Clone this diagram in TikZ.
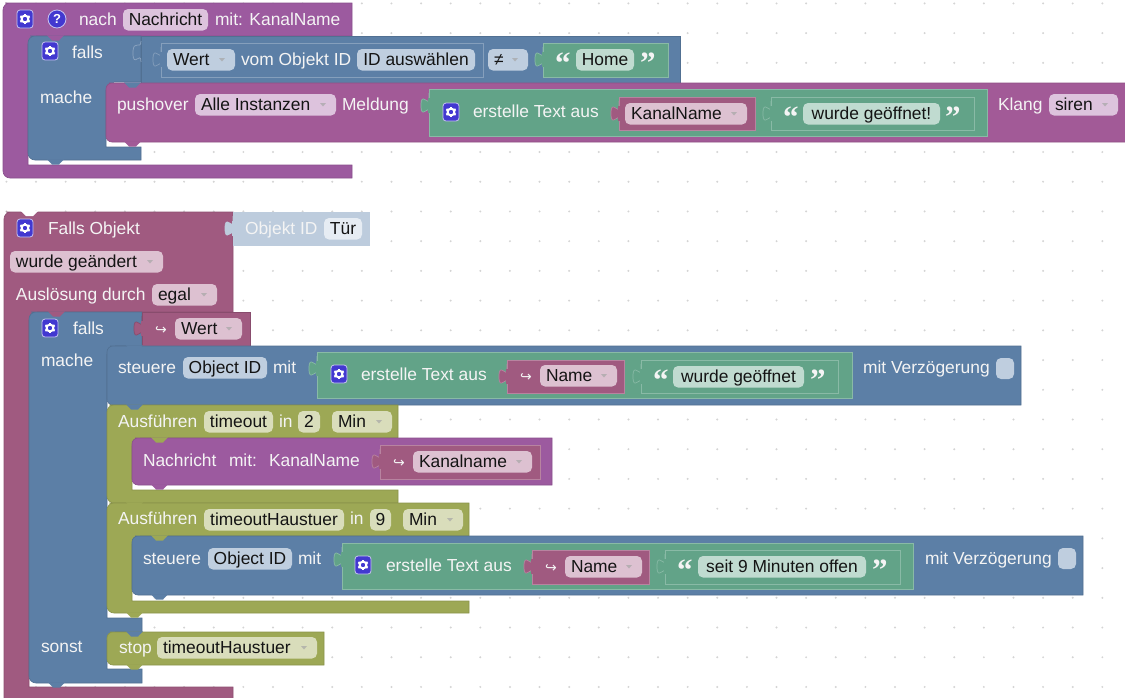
\documentclass[tikz,border=0pt]{standalone}
\usepackage{fontspec}
\setmainfont{Liberation Sans}
\newfontfamily\qfont{Liberation Serif}
\newfontfamily\arfont{DejaVu Sans}
\definecolor{cPurple}{HTML}{9C5A9F}
\definecolor{cPush}{HTML}{A25A97}
\definecolor{cBlue}{HTML}{5C7FA6}
\definecolor{cGreen}{HTML}{62A388}
\definecolor{cMaroon}{HTML}{A05A80}
\definecolor{cOlive}{HTML}{9DA855}
\definecolor{cPale}{HTML}{BDCCDD}
\definecolor{fPurple}{HTML}{DDC3DD}
\definecolor{fBlue}{HTML}{BFCEDF}
\definecolor{fGreen}{HTML}{C0DBD0}
\definecolor{fMaroon}{HTML}{DDC1D1}
\definecolor{fOlive}{HTML}{D9DDBB}
\definecolor{fPale}{HTML}{E6ECF3}
\definecolor{cGear}{HTML}{4238D0}
\definecolor{cTxt}{HTML}{F4F4F4}
\newcount\nn
\newcommand{\stepn}{\global\advance\nn by 1\relax}
\tikzset{
  x=1pt,y=-1pt,
  every node/.style={inner sep=0pt,outer sep=0pt,font=\fontsize{17.4}{20}\selectfont},
  lab/.style={text=cTxt,anchor=base west},
  ftxt/.style={text=black!92},
  fbox/.style={rounded corners=5pt},
  edge/.style={line width=0.6pt},
  vbox/.style={line width=0.7pt},
}
% C-shaped statement block: colour,x0,y0,x1,yh,xi,ys,yb
\newcommand{\cblk}[8]{%
  \fill[#1,draw=#1!88!black,edge] [rounded corners=7pt] (#2+9,#8) -- (#2,#8) -- (#2,#3) -- (#2+9,#3) [sharp corners] -- (#4,#3) -- (#4,#5) -- (#6,#5) -- (#6,#7) -- (#4,#7) -- (#4,#8) -- cycle;
  \fill[#1] (#6-1,#5-1) rectangle (#6+8,#5+8);}
% plain statement block: colour,x0,y0,x1,y1
\newcommand{\sblk}[5]{%
  \fill[#1,draw=#1!88!black,edge] [rounded corners=6pt] (#4+0,#5) -- (#2,#5) -- (#2,#3) -- (#2+9,#3) [sharp corners] -- (#4,#3) -- cycle;}
% value block with tab: colour,border,x0,y0,x1,y1
\newcommand{\vblk}[6]{%
  \fill[#1,draw=#2,vbox] (#3,#4+4) -- (#3,#4+9) .. controls (#3,#4+19) and (#3-8,#4+1) .. (#3-8,#4+16.5) .. controls (#3-8,#4+32) and (#3,#4+14) .. (#3,#4+24) -- (#3,#4+24) -- cycle;
  \fill[#1,draw=#2,vbox] (#3,#4) rectangle (#5,#6);
  \fill[#1] (#3-1.5,#4+9) rectangle (#3+1,#4+24);}
\newcommand{\bump}[3]{\fill[#3] (#1,#2-0.6) -- (#1+5,#2+4.5) -- (#1+12,#2+4.5) -- (#1+17,#2-0.6) -- cycle;}
\newcommand{\lab}[3]{\stepn\node[lab] (n\the\nn) at (#1,#2+6) {#3};}
% field without dropdown: x0,y0,x1,fill,text
\newcommand{\fld}[5]{%
  \fill[#4,fbox] (#1,#2) rectangle (#3,#2+21.5);
  \stepn\node[ftxt,anchor=base] (n\the\nn) at ({(#1+#3)/2},#2+16) {#5};}
% field with dropdown
\newcommand{\dfld}[5]{%
  \fill[#4,fbox] (#1,#2) rectangle (#3,#2+21.5);
  \stepn\node[ftxt,anchor=base west] (n\the\nn) at (#1+6,#2+16) {#5};
  \fill[black!35,opacity=.7] (#3-16,#2+9) -- (#3-10,#2+9) -- (#3-13,#2+12.5) -- cycle;}
\newcommand{\gear}[2]{%
  \fill[cGear,draw=white!70!cGear,line width=0.8pt,rounded corners=3pt] (#1-8,#2-9) rectangle (#1+8,#2+9);
  \foreach \a in {30,90,150,210,270,330}{\draw[white,line width=2.2pt] (#1,#2) ++(\a:2.8) -- ++(\a:2.6);}
  \draw[white,line width=2pt] (#1,#2) circle (3.4);}
\newcommand{\qo}[2]{\stepn\node[text=cTxt,anchor=base west,font=\qfont\bfseries\fontsize{31}{31}\selectfont] (n\the\nn) at (#1,#2+24) {“};}
\newcommand{\qc}[2]{\stepn\node[text=cTxt,anchor=base west,font=\qfont\bfseries\fontsize{31}{31}\selectfont] (n\the\nn) at (#1,#2+24) {”};}
\newcommand{\harr}[2]{\stepn\node[text=cTxt,anchor=base west,font=\arfont\fontsize{14}{14}\selectfont] (n\the\nn) at (#1,#2+6) {↪};}
\begin{document}
\begin{tikzpicture}
\useasboundingbox (0,0) rectangle (1125,697);
\clip (0,0) rectangle (1125,697);
\fill[white] (0,0) rectangle (1125,697);
% grid of dots
\foreach \i in {0,...,37}{\foreach \j in {0,...,23}{\fill[black!17] (6.4+29.62*\i,3.4+29.72*\j) circle (1.1);}}

% ---------- first group ----------
\cblk{cPurple}{3}{3}{352}{36}{28}{165}{178}
\cblk{cBlue}{28}{36}{141}{82}{106}{147}{160}
\fill[cBlue,draw=cBlue!88!black,edge] (141,36) rectangle (680,83);
\bump{47}{36}{cPurple}
\bump{47}{160}{cBlue}
\sblk{cPush}{106}{83}{1130}{142}
\bump{124}{83}{cBlue}
\bump{124}{142}{cPush}
% header
\gear{25}{19}
\fill[cGear,draw=white!70!cGear,line width=0.8pt] (57,19) circle (9);
\stepn\node[text=white,font=\bfseries\fontsize{13}{13}\selectfont] (n\the\nn) at (57,19) {?};
\lab{79}{19}{nach}
\fld{123}{9}{208}{fPurple}{Nachricht}
\lab{215}{19}{mit: KanalName}
% falls
\gear{50}{51}
\lab{72}{52}{falls}
\lab{40}{97}{mache}
\draw[cBlue!70!white,line width=0.7pt] (141,41) .. controls (141,51) and (133,38) .. (133,53) .. controls (133,69) and (141,50) .. (141,62);
\vblk{cBlue}{cBlue!75!white}{161}{43}{483}{77}
\dfld{167}{49}{235}{fBlue}{Wert}
\lab{241}{59}{vom Objekt ID}
\fld{357}{49}{475}{fBlue}{ID auswählen}
\dfld{488}{49}{528}{fBlue}{≠}
\vblk{cGreen}{cGreen!75!white}{543}{43}{668}{77}
\qo{555}{49}
\fld{576}{49}{634}{fGreen}{Home}
\qc{640}{49}
% pushover
\lab{117}{104}{pushover}
\dfld{195}{94}{336}{fPurple}{Alle Instanzen}
\lab{342}{104}{Meldung}
\vblk{cGreen}{cGreen!75!white}{429}{89}{987}{136}
\gear{451}{112}
\lab{473}{111}{erstelle Text aus}
\vblk{cMaroon}{cMaroon!75!white}{619}{97}{755}{130}
\dfld{625}{103}{747}{fMaroon}{KanalName}
\vblk{cGreen}{cGreen!75!white}{771}{97}{974}{130}
\qo{783}{103}
\fld{803}{103}{940}{fGreen}{wurde geöffnet!}
\qc{945}{103}
\lab{998}{104}{Klang}
\dfld{1049}{94}{1118}{fPurple}{siren}

% ---------- second group ----------
\cblk{cMaroon}{4}{212}{233}{312}{29}{687}{712}
\fill[white] (21,211) -- (26,216) -- (33,216) -- (38,211) -- cycle;
\gear{25}{228}
\lab{48}{228}{Falls Objekt}
\vblk{cPale}{cPale}{233}{212}{369}{245}
\lab{245}{228}{Objekt ID}
\fld{324}{218}{362}{fPale}{Tür}
\dfld{10}{251}{163}{fMaroon}{wurde geändert}
\lab{16}{294}{Auslösung durch}
\dfld{152}{284}{217}{fMaroon}{egal}
% falls 2
\fill[cBlue,draw=cBlue!88!black,edge] [rounded corners=7pt] (38,683) -- (29,683) -- (29,312) -- (38,312) [sharp corners] -- (142,312) -- (142,346) -- (107,346) -- (107,618) -- (142,618) -- (142,632) -- (107,632) -- (107,669) -- (142,669) -- (142,683) -- cycle;
\fill[cBlue] (106,345) rectangle (115,354);
\fill[cBlue] (106,631) rectangle (115,640);
\bump{48}{312}{cMaroon}
\bump{48}{683}{cBlue}
\gear{50}{328}
\lab{73}{328}{falls}
\lab{41}{360}{mache}
\lab{41}{646}{sonst}
\vblk{cMaroon}{cMaroon!85!black}{142}{312}{250}{346}
\harr{155}{328}
\dfld{175}{318}{242}{fMaroon}{Wert}
% steuere 1
\sblk{cBlue}{107}{346}{1021}{405}
\bump{126}{346}{cBlue}
\lab{118}{367}{steuere}
\fld{183}{357}{267}{fBlue}{Object ID}
\lab{273}{367}{mit}
\vblk{cGreen}{cGreen!75!white}{317}{352}{852}{398}
\gear{339}{374}
\lab{361}{374}{erstelle Text aus}
\vblk{cMaroon}{cMaroon!75!white}{507}{360}{624}{393}
\harr{520}{375}
\dfld{540}{365}{617}{fMaroon}{Name}
\vblk{cGreen}{cGreen!75!white}{641}{360}{838}{393}
\qo{653}{366}
\fld{673}{366}{804}{fGreen}{wurde geöffnet}
\qc{810}{366}
\lab{863}{367}{mit Verzögerung}
\fill[fBlue,fbox] (996,358) rectangle (1014,379);
% Ausfuehren 1
\cblk{cOlive}{107}{405}{398}{438}{132}{490}{503}
\bump{126}{405}{cBlue}
\lab{118}{421}{Ausführen}
\fld{204}{411}{273}{fOlive}{timeout}
\lab{279}{421}{in}
\fld{298}{411}{320}{fOlive}{2}
\dfld{332}{411}{392}{fOlive}{Min}
\sblk{cPurple}{132}{438}{552}{485}
\bump{151}{438}{cOlive}
\bump{151}{485}{cPurple}
\lab{143}{460}{Nachricht}
\lab{229}{460}{mit:}
\lab{269}{460}{KanalName}
\vblk{cMaroon}{cMaroon!75!white}{380}{445}{540}{479}
\harr{393}{461}
\dfld{413}{451}{532}{fMaroon}{Kanalname}
% Ausfuehren 2
\cblk{cOlive}{107}{503}{469}{536}{132}{601}{613}
\bump{126}{503}{cOlive}
\bump{126}{613}{cOlive}
\lab{118}{518}{Ausführen}
\fld{204}{509}{344}{fOlive}{timeoutHaustuer}
\lab{350}{518}{in}
\fld{370}{509}{391}{fOlive}{9}
\dfld{403}{509}{463}{fOlive}{Min}
\sblk{cBlue}{132}{536}{1083}{595}
\bump{151}{536}{cOlive}
\bump{151}{595}{cBlue}
\lab{143}{558}{steuere}
\fld{208}{548}{292}{fBlue}{Object ID}
\lab{298}{558}{mit}
\vblk{cGreen}{cGreen!75!white}{342}{543}{913}{589}
\gear{363}{565}
\lab{386}{565}{erstelle Text aus}
\vblk{cMaroon}{cMaroon!75!white}{532}{550}{649}{584}
\harr{545}{566}
\dfld{565}{556}{642}{fMaroon}{Name}
\vblk{cGreen}{cGreen!75!white}{665}{550}{900}{584}
\qo{677}{556}
\fld{698}{556}{866}{fGreen}{seit 9 Minuten offen}
\qc{872}{556}
\lab{925}{558}{mit Verzögerung}
\fill[fBlue,fbox] (1058,548) rectangle (1076,569);
% stop
\sblk{cOlive}{107}{632}{324}{665}
\bump{126}{632}{cBlue}
\bump{126}{665}{cOlive}
\lab{119}{647}{stop}
\dfld{157}{637}{317}{fOlive}{timeoutHaustuer}
\end{tikzpicture}
\end{document}
